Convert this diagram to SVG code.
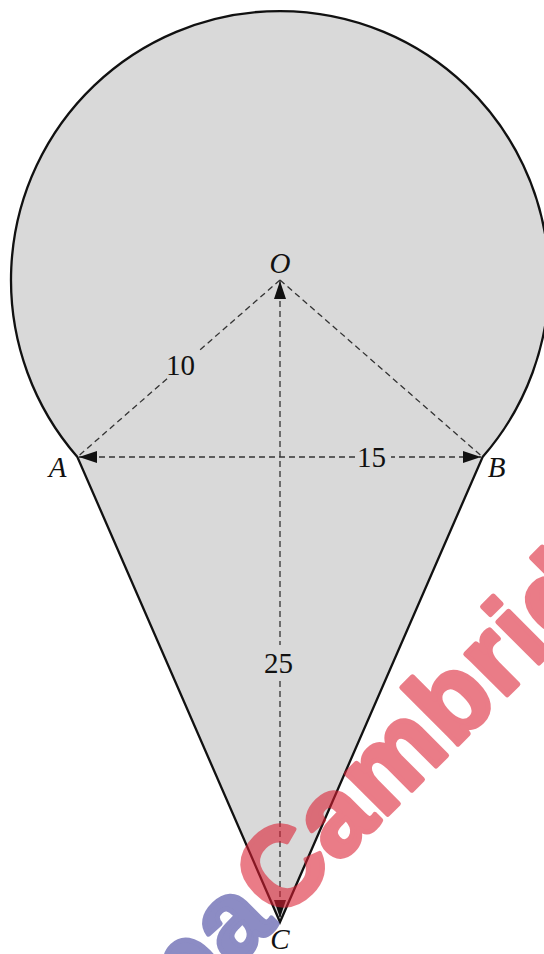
<svg xmlns="http://www.w3.org/2000/svg" width="544" height="954" viewBox="0 0 544 954">
<style>
.shape{fill:#d9d9d9;stroke:none}
.outline{fill:none;stroke:#111;stroke-width:2.3;stroke-linejoin:miter}
.dash{fill:none;stroke:#333;stroke-width:1.3;stroke-dasharray:6 4}
.lbl{font-family:"Liberation Serif",serif;font-style:italic;font-size:29px;fill:#111;text-anchor:middle}
.num{font-family:"Liberation Serif",serif;font-size:29px;fill:#111;text-anchor:middle}
.mask{fill:#d9d9d9}
.wm{font-family:"Liberation Sans",sans-serif;font-weight:bold;font-size:110px;letter-spacing:2px;stroke-width:5;stroke-linejoin:round}
</style>
<defs>
<marker id="arr" markerUnits="userSpaceOnUse" markerWidth="18" markerHeight="12" viewBox="0 0 18 12" refX="18" refY="6" orient="auto-start-reverse">
<path d="M0,0 L18,6 L0,12 z" fill="#111"/>
</marker>
</defs>
<rect width="544" height="954" fill="#ffffff"/>
<g id="shape">
<path class="shape" d="M77.4,457 A269,269 0 1 1 482.6,457 L280,922 Z"/>
</g>
<g id="connectors">
<line class="dash" x1="280" y1="280" x2="77.4" y2="457"/>
<line class="dash" x1="280" y1="280" x2="482.6" y2="457"/>
<line class="dash" x1="79" y1="457" x2="481" y2="457" marker-start="url(#arr)" marker-end="url(#arr)"/>
<line class="dash" x1="280" y1="281" x2="280" y2="918" marker-start="url(#arr)" marker-end="url(#arr)"/>
</g>
<g id="dim10"><rect class="mask" x="168" y="349" width="31" height="31"/><text class="num" x="180.5" y="375">10</text></g>
<g id="dim15"><rect class="mask" x="355" y="445" width="36" height="25"/><text class="num" x="371.5" y="467">15</text></g>
<g id="dim25"><rect class="mask" x="262" y="645" width="33" height="36"/><text class="num" x="278.5" y="673">25</text></g>
<g id="outline">
<path class="outline" d="M77.4,457 A269,269 0 1 1 482.6,457 L280,922 Z"/>
</g>
<g id="pointO"><text class="lbl" x="280" y="273">O</text></g>
<g id="pointA"><text class="lbl" x="57.5" y="477">A</text></g>
<g id="pointB"><text class="lbl" x="496.5" y="477">B</text></g>
<g id="pointC"><text class="lbl" x="280" y="949">C</text></g>
<g id="watermark" transform="translate(280,922) rotate(-45)" opacity="0.58">
<text class="wm" x="0" y="0" fill="#dc1e32" stroke="#dc1e32">Cambridge</text>
<text class="wm" x="-2" y="0" text-anchor="end" fill="#3a3a9a" stroke="#3a3a9a">Papa</text>
</g>
</svg>
